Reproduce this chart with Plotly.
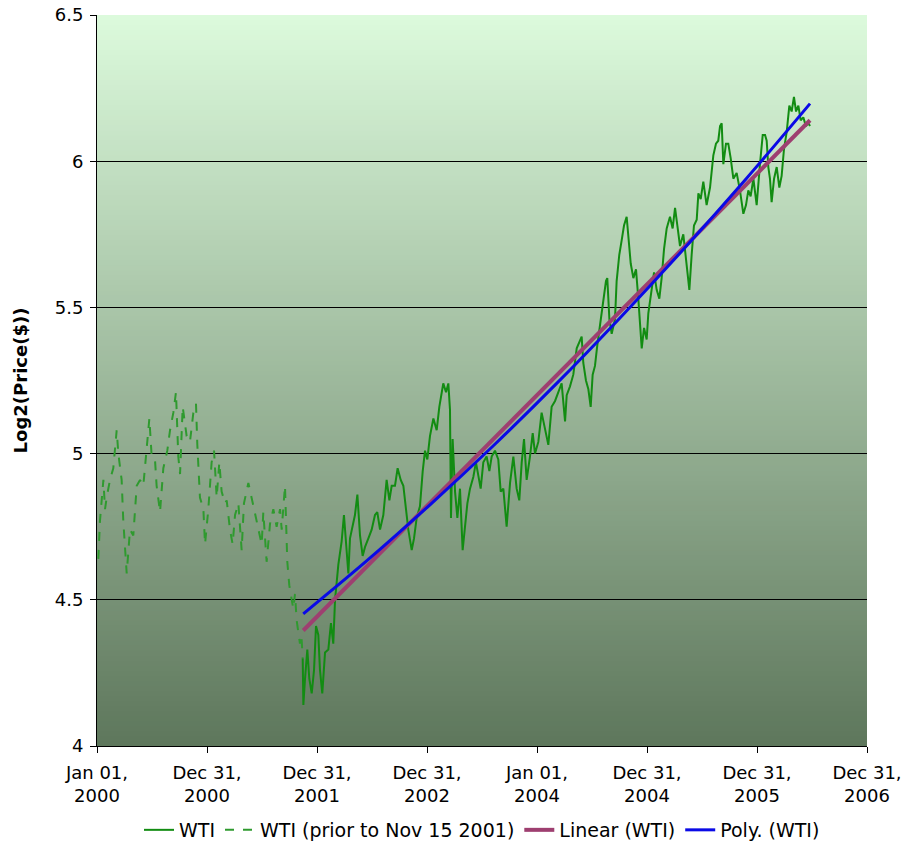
import plotly.graph_objects as go

# ---- data (decimal years, log2 of WTI price in $) ----
years_pre = [2000.012, 2000.027, 2000.058, 2000.073, 2000.088, 2000.118, 2000.148, 2000.179, 2000.194,
             2000.224, 2000.239, 2000.270, 2000.300, 2000.330, 2000.361, 2000.391, 2000.421, 2000.452,
             2000.476, 2000.497, 2000.527, 2000.542, 2000.573, 2000.603, 2000.639, 2000.664, 2000.694,
             2000.718, 2000.739, 2000.755, 2000.779, 2000.815, 2000.845, 2000.876, 2000.900, 2000.912,
             2000.936, 2000.967, 2000.982, 2001.012, 2001.042, 2001.064, 2001.088, 2001.112, 2001.133,
             2001.164, 2001.179, 2001.209, 2001.233, 2001.255, 2001.285, 2001.315, 2001.336, 2001.376,
             2001.406, 2001.436, 2001.467, 2001.497, 2001.512, 2001.542, 2001.573, 2001.603, 2001.633,
             2001.664, 2001.679, 2001.709, 2001.730, 2001.748, 2001.770, 2001.785, 2001.800, 2001.815,
             2001.845, 2001.858, 2001.870]
wti_pre = [4.64, 4.77, 4.91, 4.81, 4.85, 4.91, 4.95, 5.08, 5.00,
           4.91, 4.77, 4.59, 4.74, 4.72, 4.89, 4.91, 4.89, 5.03,
           5.12, 4.99, 4.98, 4.89, 4.80, 4.95, 5.01, 5.08, 5.14,
           5.21, 4.99, 4.93, 5.16, 5.06, 5.04, 5.14, 5.17, 5.03,
           4.85, 4.81, 4.69, 4.81, 4.97, 5.01, 4.85, 4.97, 4.87,
           4.83, 4.84, 4.74, 4.69, 4.79, 4.83, 4.67, 4.83, 4.90,
           4.85, 4.80, 4.74, 4.69, 4.80, 4.63, 4.76, 4.81, 4.75,
           4.81, 4.74, 4.89, 4.63, 4.55, 4.50, 4.47, 4.52, 4.43,
           4.35, 4.38, 4.30]

years_post = [2001.870, 2001.876, 2001.891, 2001.912, 2001.930, 2001.952, 2001.973, 2001.991, 2002.012,
              2002.027, 2002.048, 2002.073, 2002.103, 2002.127, 2002.148, 2002.164, 2002.194, 2002.224,
              2002.245, 2002.264, 2002.285, 2002.300, 2002.324, 2002.345, 2002.367, 2002.391, 2002.415,
              2002.436, 2002.467, 2002.497, 2002.527, 2002.548, 2002.573, 2002.603, 2002.633, 2002.658,
              2002.679, 2002.709, 2002.733, 2002.761, 2002.785, 2002.809, 2002.830, 2002.861, 2002.882,
              2002.906, 2002.936, 2002.961, 2002.982, 2003.003, 2003.027, 2003.058, 2003.088, 2003.112,
              2003.133, 2003.148, 2003.173, 2003.194, 2003.209, 2003.218, 2003.233, 2003.255, 2003.276,
              2003.300, 2003.324, 2003.345, 2003.367, 2003.391, 2003.421, 2003.445, 2003.467, 2003.488,
              2003.512, 2003.542, 2003.567, 2003.588, 2003.618, 2003.648, 2003.670, 2003.694, 2003.724,
              2003.755, 2003.785, 2003.815, 2003.839, 2003.861, 2003.882, 2003.906, 2003.936, 2003.961,
              2003.982, 2004.012, 2004.042, 2004.073, 2004.103, 2004.133, 2004.164, 2004.194, 2004.224,
              2004.255, 2004.270, 2004.300, 2004.330, 2004.361, 2004.391, 2004.406, 2004.421, 2004.445,
              2004.467, 2004.488, 2004.506, 2004.527, 2004.548, 2004.573, 2004.603, 2004.627, 2004.639,
              2004.658, 2004.679, 2004.709, 2004.724, 2004.748, 2004.770, 2004.791, 2004.815, 2004.830,
              2004.852, 2004.876, 2004.900, 2004.921, 2004.936, 2004.952, 2004.973, 2004.997, 2005.012,
              2005.042, 2005.064, 2005.088, 2005.112, 2005.133, 2005.155, 2005.179, 2005.209, 2005.233,
              2005.255, 2005.276, 2005.300, 2005.330, 2005.361, 2005.385, 2005.406, 2005.427, 2005.452,
              2005.467, 2005.488, 2005.512, 2005.542, 2005.573, 2005.603, 2005.627, 2005.648, 2005.664,
              2005.679, 2005.694, 2005.718, 2005.739, 2005.761, 2005.785, 2005.815, 2005.845, 2005.876,
              2005.900, 2005.921, 2005.942, 2005.967, 2005.997, 2006.027, 2006.052, 2006.073, 2006.088,
              2006.103, 2006.118, 2006.133, 2006.155, 2006.179, 2006.203, 2006.224, 2006.245, 2006.270,
              2006.294, 2006.315, 2006.336, 2006.355, 2006.376, 2006.397, 2006.421, 2006.445, 2006.467,
              2006.482]
wti_post = [4.30, 4.14, 4.23, 4.33, 4.23, 4.18, 4.26, 4.41, 4.38,
            4.26, 4.18, 4.32, 4.33, 4.42, 4.35, 4.50, 4.62, 4.70,
            4.79, 4.68, 4.59, 4.71, 4.75, 4.79, 4.86, 4.72, 4.65,
            4.68, 4.71, 4.74, 4.79, 4.80, 4.74, 4.79, 4.91, 4.84,
            4.89, 4.89, 4.95, 4.91, 4.89, 4.80, 4.74, 4.67, 4.71,
            4.78, 4.82, 4.94, 5.01, 4.98, 5.06, 5.12, 5.08, 5.16,
            5.20, 5.24, 5.21, 5.24, 5.15, 4.78, 5.05, 4.87, 4.78,
            4.88, 4.67, 4.74, 4.83, 4.88, 4.92, 4.97, 4.92, 4.88,
            4.97, 4.99, 4.94, 4.99, 5.01, 4.98, 4.87, 4.88, 4.75,
            4.90, 4.99, 4.88, 4.84, 4.97, 5.05, 4.91, 4.99, 5.07,
            5.00, 5.04, 5.14, 5.08, 5.03, 5.16, 5.18, 5.21, 5.24,
            5.11, 5.20, 5.23, 5.27, 5.36, 5.39, 5.40, 5.31, 5.25,
            5.22, 5.16, 5.27, 5.30, 5.37, 5.44, 5.53, 5.59, 5.60,
            5.46, 5.41, 5.46, 5.59, 5.68, 5.73, 5.78, 5.81, 5.75,
            5.65, 5.60, 5.63, 5.53, 5.45, 5.36, 5.43, 5.39, 5.48,
            5.56, 5.62, 5.56, 5.53, 5.60, 5.70, 5.77, 5.81, 5.77,
            5.84, 5.78, 5.71, 5.75, 5.64, 5.56, 5.68, 5.78, 5.80,
            5.89, 5.87, 5.93, 5.85, 5.91, 6.02, 6.06, 6.07, 6.12,
            6.13, 5.99, 6.06, 6.06, 6.01, 5.94, 5.96, 5.90, 5.82,
            5.85, 5.90, 5.88, 5.94, 5.85, 5.99, 6.09, 6.09, 6.07,
            5.98, 5.94, 5.86, 5.94, 5.98, 5.91, 5.95, 6.04, 6.10,
            6.19, 6.17, 6.22, 6.17, 6.19, 6.14, 6.15, 6.12, 6.13,
            6.12]

years_linear = [2001.875, 2006.482]
linear_vals = [4.395, 6.140]

years_poly = [2001.875, 2002.451, 2003.027, 2003.603, 2004.179, 2004.754, 2005.330, 2005.906, 2006.482]
poly_vals = [4.452, 4.633, 4.825, 5.027, 5.240, 5.464, 5.698, 5.942, 6.197]

tick_years = [2000, 2001, 2002, 2003, 2004, 2005, 2006, 2007]
tick_labels = ["Jan 01,<br>2000", "Dec 31,<br>2000", "Dec 31,<br>2001", "Dec 31,<br>2002",
               "Jan 01,<br>2004", "Dec 31,<br>2004", "Dec 31,<br>2005", "Dec 31,<br>2006"]

FONT = "DejaVu Sans, Verdana, sans-serif"
FS = 18

fig = go.Figure()
fig.add_trace(go.Scatter(x=years_post, y=wti_post, mode="lines", name="WTI",
                         line=dict(color="#128c12", width=2)))
fig.add_trace(go.Scatter(x=years_pre, y=wti_pre, mode="lines", name="WTI (prior to Nov 15 2001)",
                         line=dict(color="#2f9a2f", width=2, dash="dash")))
fig.add_trace(go.Scatter(x=years_linear, y=linear_vals, mode="lines", name="Linear (WTI)",
                         line=dict(color="#9e3f70", width=4)))
fig.add_trace(go.Scatter(x=years_poly, y=poly_vals, mode="lines", name="Poly. (WTI)",
                         line=dict(color="#0a0ae6", width=3, shape="spline")))

# vertical gradient background of the plot area
top = (220, 250, 220)
bot = (94, 119, 92)
N = 146
shapes = []
for i in range(N):
    f = i / (N - 1)
    c = tuple(round(bot[k] + (top[k] - bot[k]) * f) for k in range(3))
    shapes.append(dict(type="rect", xref="x domain", yref="y domain",
                       x0=0, x1=1, y0=i / N, y1=min(1, (i + 1) / N + 0.002),
                       fillcolor="rgb(%d,%d,%d)" % c, line=dict(width=0), layer="below"))

fig.update_layout(
    width=901, height=844,
    margin=dict(l=97, r=34, t=15, b=98, autoexpand=False),
    paper_bgcolor="white", plot_bgcolor="white",
    font=dict(family=FONT, size=FS, color="black"),
    shapes=shapes,
    showlegend=True,
    legend=dict(orientation="h", x=0.5, xanchor="center", xref="paper",
                y=0.0166, yref="container", yanchor="middle",
                font=dict(family=FONT, size=19, color="black"),
                bgcolor="rgba(0,0,0,0)", itemwidth=30),
)
fig.update_xaxes(range=[2000, 2007], tickmode="array", tickvals=tick_years, ticktext=tick_labels,
                 showgrid=False, zeroline=False, showline=True, linecolor="black", linewidth=1,
                 ticks="outside", ticklen=6, tickcolor="black", automargin=False,
                 ticklabelstandoff=4, ticklabeloverflow="allow",
                 tickfont=dict(family=FONT, size=FS, color="black"))
fig.update_yaxes(range=[4, 6.5], tickmode="linear", tick0=4, dtick=0.5,
                 showgrid=True, gridcolor="black", gridwidth=1, zeroline=False,
                 showline=True, linecolor="black", linewidth=1,
                 ticks="outside", ticklen=6, tickcolor="black", automargin=False,
                 ticklabelstandoff=3, ticklabeloverflow="allow",
                 tickfont=dict(family=FONT, size=FS, color="black"),
                 title=dict(text="<b>Log2(Price($))</b>", font=dict(family=FONT, size=FS, color="black"),
                            standoff=22))

fig.write_html("out.html")
